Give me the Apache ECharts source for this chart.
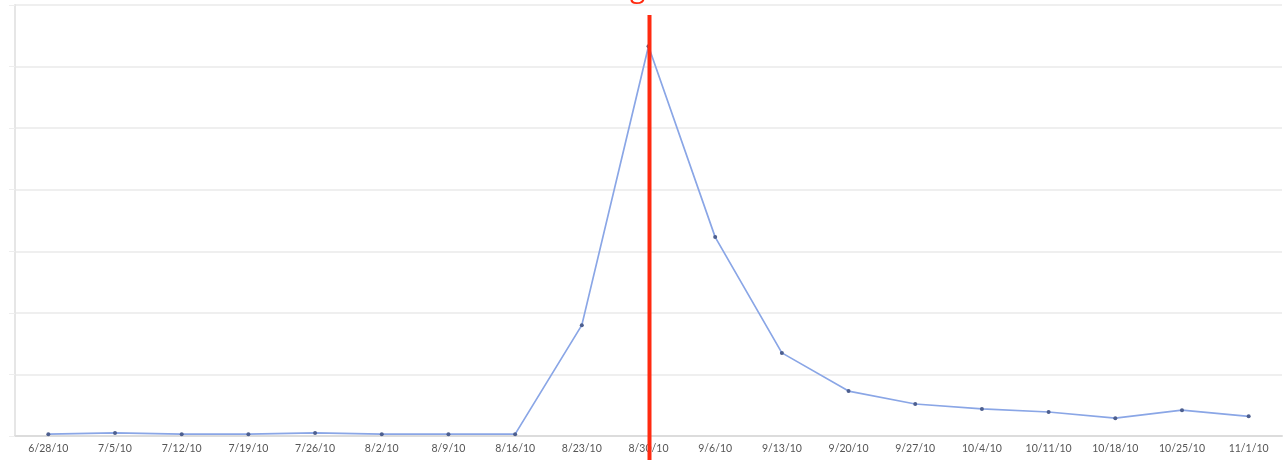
<!DOCTYPE html>
<html><head><meta charset="utf-8">
<script src="https://cdn.jsdelivr.net/npm/echarts@6/dist/echarts.min.js"></script>
<style>html,body{margin:0;padding:0;background:#fff;}#c{width:1285px;height:460px;}</style>
</head><body><div id="c"></div>
<script>
const categories = ['6/28/10','7/5/10','7/12/10','7/19/10','7/26/10','8/2/10','8/9/10','8/16/10','8/23/10','8/30/10','9/6/10','9/13/10','9/20/10','9/27/10','10/4/10','10/11/10','10/18/10','10/25/10','11/1/10'];
const values = [0.03,0.05,0.03,0.03,0.05,0.03,0.03,0.03,1.80,6.33,3.23,1.35,0.73,0.52,0.44,0.39,0.29,0.42,0.32];
const markerCategory = '8/30/10';
const markerText = 'g';

const chart = echarts.init(document.getElementById('c'), null, {renderer:'canvas'});
chart.setOption({
  animation:false,
  backgroundColor:'#fff',
  grid:{left:15, right:3, top:5, bottom:24, containLabel:false},
  xAxis:{type:'category', data:categories, boundaryGap:true,
    axisLine:{lineStyle:{color:'#dcdcdc', width:2}},
    axisTick:{show:false},
    axisLabel:{color:'#555', fontSize:10.5, fontFamily:'Lato, sans-serif', margin:7, interval:0}
  },
  yAxis:{type:'value', min:0, max:7, interval:1,
    axisLine:{show:true, lineStyle:{color:'#e6e6e6', width:2}},
    axisTick:{show:true, length:6, lineStyle:{color:'#eeeeee'}},
    axisLabel:{show:false},
    splitLine:{lineStyle:{color:'#efefef', width:2}}
  },
  series:[{type:'line', data:values, symbol:'circle', symbolSize:4,
    itemStyle:{color:'#4d5f8f'},
    lineStyle:{color:'#8aa6e6', width:1.7}
  }]
});
const px = chart.convertToPixel({xAxisIndex:0}, markerCategory);
chart.setOption({graphic:[
  {type:'line', shape:{x1:px+1, y1:15, x2:px+1, y2:460}, style:{stroke:'#ff2a10', lineWidth:4}, z:100},
  {type:'text', x:px-11, y:-25, style:{text:markerText, fill:'#ff2a10', font:'28px "Open Sans", sans-serif', textAlign:'center', textVerticalAlign:'top'}, z:100}
]});
</script></body></html>
